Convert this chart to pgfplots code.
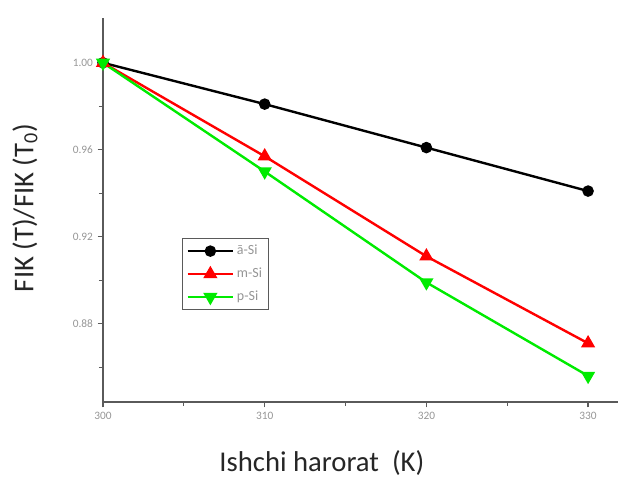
\documentclass[border=0pt]{standalone}
\usepackage{pgfplots}
\pgfplotsset{compat=1.18}
\usepackage{fontspec}
\setmainfont{Carlito}
\definecolor{tickgray}{RGB}{150,150,150}
\definecolor{axgray}{RGB}{90,90,90}
\definecolor{pgreen}{RGB}{0,235,0}
\begin{document}
\begin{tikzpicture}[x=0.75pt,y=0.75pt]
\begin{axis}[
  scale only axis,
  width=386.25pt, height=288pt,
  xmin=300, xmax=331.85,
  ymin=0.844, ymax=1.0206,
  axis x line*=bottom, axis y line*=left,
  axis line style={axgray, line width=1pt, -},
  xtick={300,310,320,330},
  minor xtick={305,315,325},
  ytick={0.88,0.92,0.96,1.00},
  minor ytick={0.86,0.90,0.94,0.98},
  tick align=outside,
  major tick length=4pt, minor tick length=3pt,
  tick style={axgray, line width=0.9pt},
  ticklabel style={font=\fontsize{8.5}{10}\selectfont, text=tickgray},
  /pgf/number format/assume math mode=true,
  yticklabel style={/pgf/number format/.cd, fixed, fixed zerofill, precision=2},
  xticklabel style={/pgf/number format/.cd, fixed, precision=0},
  xlabel={Ishchi harorat\ \ (K)},
  ylabel={FIK (T)/FIK (T\textsubscript{0})},
  label style={font=\fontsize{21.5}{25}\selectfont, text=black!85},
  xlabel style={at={(axis description cs:0.425,0)}, anchor=center, yshift=-45.75pt},
  ylabel style={at={(axis description cs:0,0.505)}, anchor=center, rotate=0, yshift=58.5pt},
  legend style={at={(axis description cs:0.153,0.427)}, anchor=north west,
    draw=axgray, line width=0.9pt, font=\fontsize{10.5}{12}\selectfont, text=tickgray,
    row sep=4.5pt, inner sep=3pt},
  legend cell align=left,
  legend image code/.code={
    \draw[mark repeat=2, mark phase=2] plot coordinates {(0cm,0cm) (0.6cm,0cm) (1.2cm,0cm)};},
  every axis plot/.append style={line width=1.8pt},
]
% a-Si
\addplot[black, mark=*, mark size=3.4pt] coordinates {
  (300,1.000) (310,0.981) (320,0.961) (330,0.941)};
\addlegendentry{ā-Si}
% m-Si
\addplot[red, mark=triangle*, mark size=4.4pt] coordinates {
  (300,1.000) (310,0.957) (320,0.911) (330,0.871)};
\addlegendentry{m-Si}
% p-Si
\addplot[pgreen, mark=triangle*, mark size=4.4pt, mark options={rotate=180}] coordinates {
  (300,1.000) (310,0.950) (320,0.899) (330,0.856)};
\addlegendentry{p-Si}
\end{axis}
\path (current axis.south west) ++(-103,-77) rectangle ++(621,479);
\end{tikzpicture}
\end{document}
